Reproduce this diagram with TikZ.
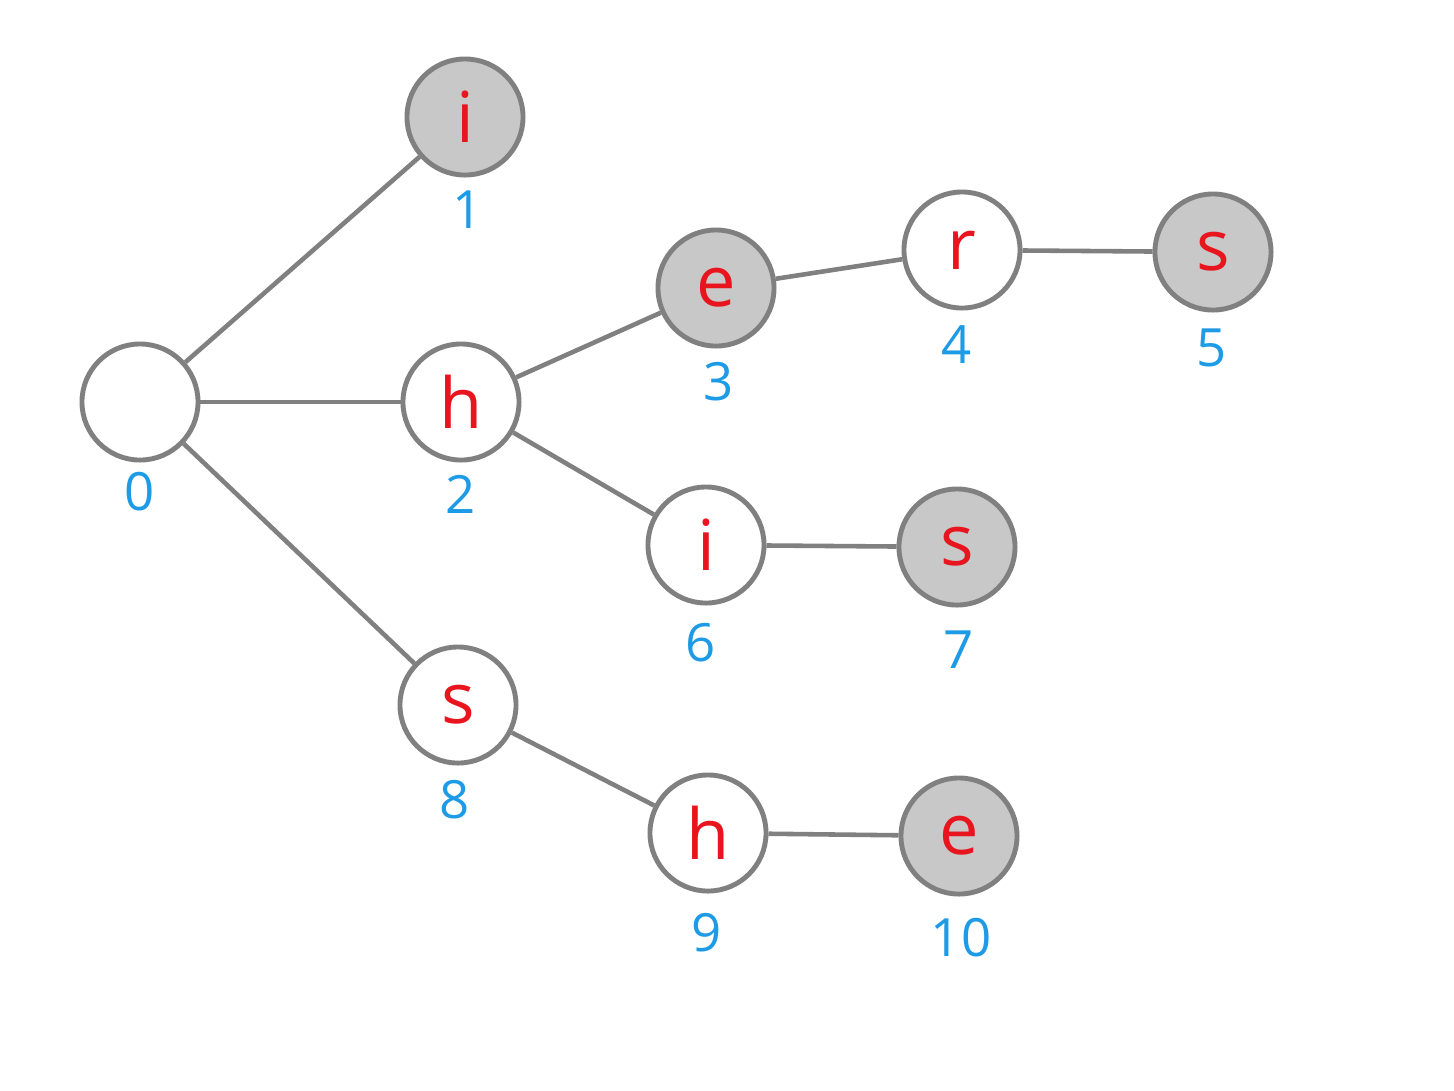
\documentclass[tikz,border=0pt]{standalone}
\usepackage{fontspec}
\setmainfont{Open Sans}
\definecolor{edgegray}{HTML}{808080}
\definecolor{fillgray}{HTML}{C8C8C8}
\definecolor{letterred}{HTML}{E8141E}
\definecolor{numblue}{HTML}{1E9BE6}
\begin{document}
\begin{tikzpicture}[x=0.01cm,y=-0.01cm,
  trienode/.style={circle,draw=edgegray,line width=1.4pt,fill=white,minimum size=1.16cm,inner sep=0pt,
    text=letterred,font=\fontsize{20}{24}\selectfont},
  endnode/.style={trienode,fill=fillgray},
  numlabel/.style={text=numblue,font=\fontsize{15}{18}\selectfont,inner sep=0pt},
  edge/.style={draw=edgegray,line width=1.3pt}]
\useasboundingbox[fill=white] (0,0) rectangle (1454,1090);
\node[trienode] (n0) at (140,402) {};
\node[endnode]  (n1) at (465,117) {i};
\node[trienode] (n2) at (461,402) {h};
\node[endnode]  (n3) at (716,288) {e};
\node[trienode] (n4) at (962,250) {r};
\node[endnode]  (n5) at (1213,252) {s};
\node[trienode] (n6) at (706,545) {i};
\node[endnode]  (n7) at (957,547) {s};
\node[trienode] (n8) at (458,705) {s};
\node[trienode] (n9) at (708,833) {h};
\node[endnode]  (n10) at (959,836) {e};
\node[numlabel] (l0) at (140,492) {0};
\node[numlabel] (l1) at (468,210) {1};
\node[numlabel] (l2) at (461,494) {2};
\node[numlabel] (l3) at (719,382) {3};
\node[numlabel] (l4) at (957,345) {4};
\node[numlabel] (l5) at (1212,348) {5};
\node[numlabel] (l6) at (701,643) {6};
\node[numlabel] (l7) at (959,650) {7};
\node[numlabel] (l8) at (455,800) {8};
\node[numlabel] (l9) at (707,933) {9};
\node[numlabel] (l10) at (961,938) {10};
\draw[edge] (n0) -- (n1);
\draw[edge] (n0) -- (n2);
\draw[edge] (n0) -- (n8);
\draw[edge] (n2) -- (n3);
\draw[edge] (n3) -- (n4);
\draw[edge] (n4) -- (n5);
\draw[edge] (n2) -- (n6);
\draw[edge] (n6) -- (n7);
\draw[edge] (n8) -- (n9);
\draw[edge] (n9) -- (n10);
\end{tikzpicture}
\end{document}
